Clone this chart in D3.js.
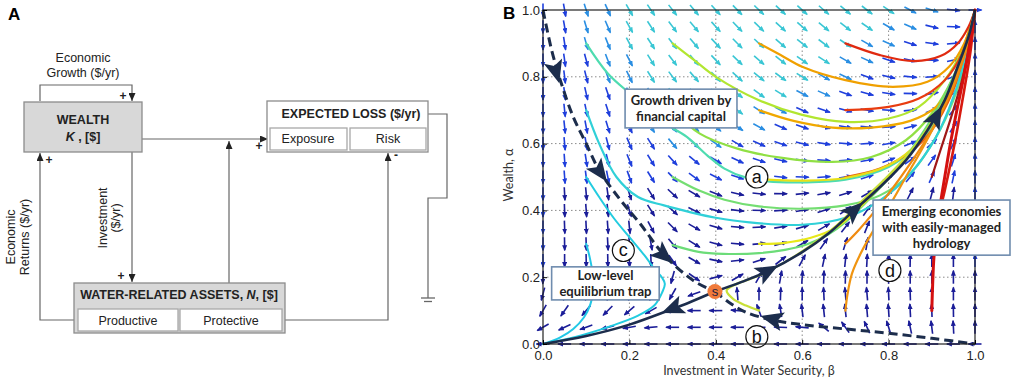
<!DOCTYPE html>
<html>
<head>
<meta charset="utf-8">
<script src="https://cdn.jsdelivr.net/npm/d3@7"></script>
<style>
  body { margin: 0; background: #fff; }
  svg { display: block; font-family: "Liberation Sans", Arial, sans-serif; }
</style>
</head>
<body>
<svg id="fig" width="1021" height="386"></svg>
<script>
// ─── panel A labels ──────────────────────────────────────────────────────────
const lossParts = ["Exposure", "Risk"];
const assetParts = ["Productive", "Protective"];
const growthLabel = ["Economic", "Growth ($/yr)"];
const investLabel = ["Investment", "($/yr)"];
const returnsLabel = ["Economic", "Returns ($/yr)"];

// ─── panel B data ────────────────────────────────────────────────────────────
const tickValues = [0, 0.2, 0.4, 0.6, 0.8, 1.0];
const fieldBeta = [0, 0.05, 0.1, 0.15, 0.2, 0.25, 0.3, 0.35, 0.4, 0.45, 0.5, 0.55, 0.6, 0.65, 0.7, 0.75, 0.8, 0.85, 0.9, 0.95, 1.0];
const fieldAlpha = [1.0, 0.95, 0.9, 0.85, 0.8, 0.75, 0.7, 0.65, 0.6, 0.55, 0.5, 0.45, 0.4, 0.35, 0.3, 0.25, 0.2, 0.15, 0.1, 0.05, 0];
// arrow direction in degrees (0 = +beta, 90 = +alpha), one row per alpha level
const fieldAngle = [
  [-90,-80,-72,-66,-60,-56,-52,-50,-48,-46,-44,-43,-42,-41,-40,-38,-34,-28,-18,-6,0],
  [-90,-80,-73,-67,-61,-57,-53,-50,-48,-46,-44,-42,-41,-40,-38,-35,-30,-24,-14,-2,90],
  [-90,-81,-74,-68,-62,-57,-53,-50,-47,-45,-43,-41,-39,-37,-34,-30,-25,-18,-8,5,90],
  [-90,-82,-75,-69,-63,-58,-53,-50,-47,-44,-41,-39,-36,-33,-30,-25,-19,-12,-2,12,90],
  [-90,-83,-76,-70,-64,-58,-53,-49,-46,-42,-39,-36,-32,-29,-25,-20,-14,-6,4,20,90],
  [-90,-83,-77,-71,-64,-58,-53,-48,-44,-40,-36,-32,-28,-24,-20,-15,-9,-1,10,28,90],
  [-90,-84,-78,-72,-65,-58,-52,-47,-42,-37,-33,-28,-24,-19,-15,-10,-4,6,22,50,90],
  [-90,-84,-79,-73,-66,-58,-51,-45,-40,-34,-29,-24,-19,-14,-10,-5,4,14,32,58,90],
  [-90,-85,-80,-75,-67,-58,-50,-43,-36,-30,-24,-19,-14,-9,-5,4,10,22,42,64,90],
  [-90,-86,-81,-76,-68,-58,-48,-40,-32,-25,-19,-13,-8,-4,4,10,20,36,55,72,90],
  [-90,-86,-83,-79,-70,-58,-46,-36,-27,-19,-13,-7,-2,5,10,18,32,50,66,78,90],
  [-90,-87,-85,-82,-72,-58,-43,-31,-21,-13,-6,-1,6,10,17,30,48,63,75,83,90],
  [-90,-88,-86,-84,-72,-58,-42,-27,-16,-7,-1,4,10,18,35,55,70,78,84,87,90],
  [-90,-88,-87,-86,-84,-62,-45,-30,-16,-5,3,9,16,30,52,68,78,84,87,89,90],
  [-90,-89,-88,-87,-86,-80,-50,-32,-16,-5,5,14,30,55,72,80,85,88,89,90,90],
  [-90,-90,-89,-89,-88,-88,-55,-30,-12,6,18,38,62,78,84,87,88,89,90,90,90],
  [-92,-92,-91,-91,-92,-96,-105,-35,15,30,60,80,86,88,89,90,90,90,90,90,90],
  [-105,-100,-97,-96,-96,-100,-120,-160,180,95,90,88,90,93,95,95,93,92,91,90,90],
  [-120,-125,-130,-135,-140,-150,-165,180,180,175,110,100,97,96,96,95,94,93,92,91,90],
  [-150,-155,-160,-165,-170,-175,180,180,180,180,180,178,175,140,125,115,108,102,97,93,90],
  [180,180,180,180,180,180,180,180,180,180,180,180,180,180,180,180,180,180,180,180,180]
];
// speed class of each arrow (3 fast … 0 slow)
const fieldSpeed = [
  "112233333333333332211",
  "112233333333333322111",
  "112233333333333221111",
  "111223333333332211111",
  "111223333333322111111",
  "111122333333221111111",
  "111122233322111111111",
  "111112222221111111111",
  "111111222111111111111",
  "111111111111111111111",
  "111111111111111111111",
  "100000000000000000001",
  "100000000000000000001",
  "100000000000000000001",
  "100000000000000000001",
  "100000000000000000001",
  "000000000000000000000",
  "000000000000000000000",
  "000000000000000000000",
  "000000000000000000000",
  "000000000000000000000"
];

// trajectories [beta, alpha]
const trajT1 = [[0.1,0.9],[0.15,0.81],[0.21,0.74],[0.27,0.67],[0.333,0.62],[0.38,0.565],[0.42,0.525],[0.47,0.498],[0.52,0.487],[0.6,0.484],[0.7,0.492],[0.8,0.53],[0.87,0.6],[0.93,0.72],[0.97,0.85],[1,1]];
const trajY1 = [[0.52,0.492],[0.6,0.489],[0.7,0.497],[0.8,0.535],[0.87,0.605],[0.93,0.725],[0.97,0.855],[1,1]];
const trajL2 = [[0.3,0.7],[0.363,0.63],[0.45,0.585],[0.55,0.558],[0.67,0.545],[0.76,0.56],[0.84,0.61],[0.9,0.69],[0.95,0.8],[0.98,0.9],[1,1]];
const trajL1 = [[0.3,0.9],[0.35,0.85],[0.4,0.8],[0.5,0.73],[0.6,0.686],[0.7,0.665],[0.8,0.675],[0.87,0.71],[0.93,0.79],[0.97,0.88],[1,1]];
const trajO1 = [[0.5,0.9],[0.55,0.865],[0.6,0.83],[0.7,0.79],[0.81,0.77],[0.89,0.785],[0.94,0.83],[0.975,0.9],[1,1]];
const trajO2 = [[0.5,0.7],[0.58,0.668],[0.67,0.648],[0.76,0.648],[0.85,0.668],[0.91,0.71],[0.955,0.79],[0.985,0.89],[1,1]];
const trajR1 = [[0.7,0.9],[0.78,0.865],[0.86,0.847],[0.92,0.862],[0.96,0.9],[0.985,0.95],[1,1]];
const trajR2 = [[0.7,0.7],[0.8,0.71],[0.87,0.735],[0.93,0.79],[0.97,0.87],[1,1]];
const trajR3 = [[0.7,0.5],[0.78,0.525],[0.85,0.575],[0.9,0.64],[0.95,0.76],[0.98,0.88],[1,1]];
const trajG2 = [[0.3,0.5],[0.36,0.46],[0.42,0.432],[0.5,0.412],[0.6,0.405],[0.7,0.415],[0.78,0.445],[0.85,0.51],[0.91,0.62],[0.95,0.73],[0.98,0.86],[1,1]];
const trajT2 = [[0.1,0.7],[0.13,0.6],[0.17,0.5],[0.22,0.44],[0.28,0.415],[0.34,0.395],[0.4,0.378],[0.478,0.364],[0.6,0.357],[0.7,0.378],[0.78,0.43],[0.85,0.51],[0.91,0.62],[0.95,0.74],[0.98,0.87],[1,1]];
const trajG4 = [[0.3,0.296],[0.36,0.276],[0.417,0.27],[0.5,0.272],[0.56,0.282],[0.61,0.298],[0.66,0.328],[0.7,0.365],[0.76,0.44],[0.82,0.525],[0.87,0.615],[0.92,0.72],[0.96,0.83],[0.985,0.92],[1,1]];
const trajY2 = [[0.5,0.3],[0.56,0.303],[0.62,0.318],[0.68,0.35],[0.73,0.405],[0.79,0.485],[0.845,0.565],[0.895,0.655],[0.935,0.745],[0.965,0.84],[0.99,0.94],[1,1]];
const trajY3 = [[0.5,0.1],[0.47,0.115],[0.44,0.135],[0.425,0.16],[0.44,0.175],[0.5,0.205],[0.56,0.245],[0.62,0.295],[0.68,0.355],[0.74,0.43],[0.8,0.505],[0.86,0.59],[0.905,0.675],[0.945,0.775],[0.975,0.87],[1,1]];
const trajO3 = [[0.7,0.3],[0.73,0.34],[0.76,0.385],[0.8,0.45],[0.85,0.54],[0.9,0.64],[0.94,0.74],[0.97,0.84],[0.99,0.93],[1,1]];
const trajO4 = [[0.7,0.1],[0.705,0.15],[0.715,0.21],[0.735,0.27],[0.765,0.34],[0.8,0.41],[0.84,0.5],[0.88,0.59],[0.92,0.69],[0.955,0.8],[0.985,0.91],[1,1]];
const trajD1 = [[0.9,0.5],[0.92,0.58],[0.945,0.68],[0.97,0.79],[0.988,0.9],[1,1]];
const trajR4 = [[0.9,0.3],[0.915,0.38],[0.93,0.46],[0.945,0.55],[0.96,0.65],[0.975,0.76],[0.99,0.88],[1,1]];
const trajR5 = [[0.9,0.1],[0.902,0.18],[0.905,0.26],[0.912,0.34],[0.92,0.42],[0.93,0.5],[0.943,0.6],[0.958,0.7],[0.974,0.8],[0.988,0.9],[1,1]];
const trajT3 = [[0.1,0.5],[0.13,0.44],[0.165,0.375],[0.2,0.32],[0.235,0.265],[0.258,0.225],[0.275,0.2],[0.282,0.18],[0.276,0.155],[0.258,0.116],[0.22,0.085],[0.16,0.055],[0.1,0.03],[0.045,0.012],[0,0]];
const trajT4 = [[0.1,0.3],[0.108,0.26],[0.115,0.21],[0.117,0.165],[0.11,0.12],[0.095,0.08],[0.07,0.045],[0.04,0.02],[0,0]];

// separatrices through the saddle s
const saddle = [0.398, 0.157];
const unstableLow = [[0.398,0.157],[0.34,0.125],[0.3,0.105],[0.2,0.058],[0.1,0.024],[0,0]];
const unstableHigh = [[0.398,0.157],[0.46,0.186],[0.52,0.218],[0.6,0.275],[0.66,0.33],[0.72,0.4],[0.78,0.47],[0.84,0.55],[0.89,0.64],[0.93,0.73],[0.96,0.83],[0.985,0.92],[1,1]];
const stableUpper = [[0,1],[0.02,0.88],[0.04,0.79],[0.07,0.68],[0.1,0.6],[0.13,0.52],[0.18,0.43],[0.225,0.36],[0.278,0.27],[0.348,0.19],[0.398,0.157]];
const stableLower = [[0.398,0.157],[0.43,0.125],[0.47,0.095],[0.53,0.072],[0.6,0.058],[0.7,0.045],[0.8,0.032],[0.9,0.017],[1,0]];
// arrowheads: [at, toward]
const heads = [
  [[0.03,0.815],[0.04,0.77]], [[0.132,0.515],[0.16,0.465]], [[0.28,0.265],[0.32,0.22]],
  [[0.53,0.075],[0.47,0.095]],
  [[0.3,0.106],[0.25,0.08]],
  [[0.52,0.218],[0.56,0.246]], [[0.72,0.4],[0.75,0.435]], [[0.91,0.68],[0.93,0.73]]
];
const circledLabels = ["a", "b", "c", "d"];
const circledAt = [[0.495,0.5],[0.495,0.022],[0.186,0.28],[0.803,0.22]];

const svg = d3.select("#fig");
svg.append("rect").attr("width", 1021).attr("height", 386).attr("fill", "#fff");
const defs = svg.append("defs");
defs.append("marker").attr("id", "tipA").attr("viewBox", "0 0 8 7").attr("markerWidth", 8).attr("markerHeight", 7)
  .attr("refX", 8).attr("refY", 3.5).attr("orient", "auto").attr("markerUnits", "userSpaceOnUse")
  .append("path").attr("d", "M0,0L8,3.5L0,7Z").attr("fill", "#222");

const SPEED_COLORS = { "3": "#3ac6d4", "2": "#2a8ee2", "1": "#1f3fdc", "0": "#1b1d98" };
Object.entries(SPEED_COLORS).forEach(([k, c]) => {
  defs.append("marker").attr("id", `q${k}`).attr("viewBox", "0 0 6 5").attr("markerWidth", 6).attr("markerHeight", 5)
    .attr("refX", 5).attr("refY", 2.5).attr("orient", "auto").attr("markerUnits", "userSpaceOnUse")
    .append("path").attr("d", "M0,0L6,2.5L0,5Z").attr("fill", c);
});

// ─── panel A: block diagram ─────────────────────────────────────────────────
const gA = svg.append("g").attr("class", "panel-a");
const LINE = "#666";
const link = (pts, head) => gA.append("path").attr("d", d3.line()(pts)).attr("fill", "none")
  .attr("stroke", LINE).attr("stroke-width", 1.2).attr("marker-end", head ? "url(#tipA)" : null);
const box = (x0, y0, w, h, fill, stroke) => gA.append("rect").attr("x", x0).attr("y", y0).attr("width", w).attr("height", h)
  .attr("fill", fill).attr("stroke", stroke).attr("stroke-width", 1.3);
const txt = (x0, y0, s, opts = {}) => gA.append("text").attr("x", x0).attr("y", y0).attr("text-anchor", opts.anchor || "middle")
  .attr("font-size", opts.size || 12.5).attr("font-weight", opts.bold ? "bold" : null).attr("fill", "#222").text(s);

gA.append("text").attr("x", 8).attr("y", 20).attr("font-size", 17).attr("font-weight", "bold").text("A");

// flows
link([[40, 101], [40, 85], [132, 85], [132, 101]], true);
link([[142, 139], [268, 139]], true);
link([[229, 283], [229, 141]], true);
link([[132, 152], [132, 282]], true);
link([[78, 320], [40, 320], [40, 153]], true);
link([[282, 320], [388, 320], [388, 153]], true);
link([[428, 114], [447, 114], [447, 198], [428, 198], [428, 298]], false);
gA.append("line").attr("x1", 421).attr("x2", 435).attr("y1", 298).attr("y2", 298).attr("stroke", LINE).attr("stroke-width", 1.3);
gA.append("line").attr("x1", 424).attr("x2", 432).attr("y1", 301.5).attr("y2", 301.5).attr("stroke", LINE).attr("stroke-width", 1.3);

// boxes
box(24, 102, 118, 50, "#d8d8d8", "#8c8c8c");
txt(83, 124, "WEALTH", { bold: true });
const kLine = gA.append("text").attr("x", 83).attr("y", 141).attr("text-anchor", "middle").attr("font-size", 12.5).attr("font-weight", "bold").attr("fill", "#222");
kLine.append("tspan").attr("font-style", "italic").text("K");
kLine.append("tspan").text(" , [$]");

box(267, 101, 161, 51, "#fff", "#8c8c8c");
txt(351, 118, "EXPECTED LOSS ($/yr)", { bold: true });
box(270, 128, 77, 22, "#fff", "#a8a8a8");
box(350, 128, 76, 22, "#fff", "#a8a8a8");
txt(308, 143, lossParts[0]);
txt(388, 143, lossParts[1]);

box(74, 283, 211, 50, "#d8d8d8", "#8c8c8c");
const wLine = gA.append("text").attr("x", 179).attr("y", 299).attr("text-anchor", "middle").attr("font-size", 12.5).attr("font-weight", "bold").attr("fill", "#222");
wLine.append("tspan").text("WATER-RELATED ASSETS, ");
wLine.append("tspan").attr("font-style", "italic").text("N");
wLine.append("tspan").text(", [$]");
box(78, 309, 100, 22, "#fff", "#a8a8a8");
box(180, 309, 102, 22, "#fff", "#a8a8a8");
txt(128, 325, assetParts[0]);
txt(231, 325, assetParts[1]);

// flow labels and signs
txt(83, 62, growthLabel[0]);
txt(83, 77, growthLabel[1]);
[[123, 100, "+"], [259, 150, "+"], [121, 280, "+"], [49, 164, "+"], [396, 159, "-"]].forEach(([px, py, s]) => txt(px, py, s, { size: 12, bold: true }));
[[107, investLabel[0]], [120, investLabel[1]]].forEach(([px, s]) =>
  gA.append("text").attr("transform", `translate(${px},218) rotate(-90)`).attr("text-anchor", "middle").attr("font-size", 12.5).attr("fill", "#222").text(s));
[[15, returnsLabel[0]], [29, returnsLabel[1]]].forEach(([px, s]) =>
  gA.append("text").attr("transform", `translate(${px},237) rotate(-90)`).attr("text-anchor", "middle").attr("font-size", 12.5).attr("fill", "#222").text(s));

// ─── panel B: phase portrait ────────────────────────────────────────────────
const gB = svg.append("g").attr("class", "panel-b");
const x = d3.scaleLinear().domain([0, 1]).range([543, 975]);
const y = d3.scaleLinear().domain([0, 1]).range([344, 10]);

gB.append("text").attr("x", 503).attr("y", 19).attr("font-size", 17).attr("font-weight", "bold").text("B");

// dotted grid
tickValues.slice(1, -1).forEach(v => {
  gB.append("line").attr("x1", x(v)).attr("x2", x(v)).attr("y1", y(0)).attr("y2", y(1))
    .attr("stroke", "#8a8a8a").attr("stroke-width", 1).attr("stroke-dasharray", "1.5,2.5");
  gB.append("line").attr("x1", x(0)).attr("x2", x(1)).attr("y1", y(v)).attr("y2", y(v))
    .attr("stroke", "#8a8a8a").attr("stroke-width", 1).attr("stroke-dasharray", "1.5,2.5");
});

// quiver field
const QL = 13;
const qG = gB.append("g").attr("class", "quiver");
fieldAlpha.forEach((a, r) => {
  fieldBeta.forEach((b, c) => {
    const ang = fieldAngle[r][c] * Math.PI / 180;
    const ux = Math.cos(ang), uy = -Math.sin(ang);
    const cx = x(b), cy = y(a);
    const k = fieldSpeed[r][c];
    qG.append("line")
      .attr("x1", cx - ux * QL / 2).attr("y1", cy - uy * QL / 2)
      .attr("x2", cx + ux * QL / 2).attr("y2", cy + uy * QL / 2)
      .attr("stroke", SPEED_COLORS[k]).attr("stroke-width", 1.6)
      .attr("marker-end", `url(#q${k})`);
  });
});

// trajectories
const curve = d3.line().x(d => x(d[0])).y(d => y(d[1])).curve(d3.curveCatmullRom.alpha(0.5));
const trajectories = [
  { pts: trajT4, color: "#22c8e6", w: 2 }, { pts: trajT3, color: "#22cce0", w: 2 },
  { pts: trajT1, color: "#4edcb0", w: 2.2 }, { pts: trajL2, color: "#90e044", w: 2.2 },
  { pts: trajL1, color: "#b2e630", w: 2.2 }, { pts: trajO1, color: "#f0a000", w: 2.2 },
  { pts: trajO2, color: "#f0a800", w: 2.2 }, { pts: trajR1, color: "#e02a10", w: 2.2 },
  { pts: trajR2, color: "#e83c10", w: 2.2 }, { pts: trajR3, color: "#e8600e", w: 2.2 },
  { pts: trajG2, color: "#74de72", w: 2.2 }, { pts: trajT2, color: "#30d0d8", w: 2.2 },
  { pts: trajY1, color: "#e6e018", w: 2.2 }, { pts: trajG4, color: "#6cdc78", w: 2.2 },
  { pts: trajY2, color: "#e8e818", w: 2.2 }, { pts: trajY3, color: "#c8e038", w: 2.2 },
  { pts: trajO3, color: "#f08a10", w: 2.2 }, { pts: trajO4, color: "#f09410", w: 2.2 },
  { pts: trajD1, color: "#a01818", w: 2.2 }, { pts: trajR4, color: "#d81a10", w: 2.6 },
  { pts: trajR5, color: "#d41010", w: 3 }
];
gB.append("g").attr("class", "traj").selectAll("path").data(trajectories).join("path")
  .attr("d", d => curve(d.pts)).attr("fill", "none").attr("stroke", d => d.color)
  .attr("stroke-width", d => d.w).attr("stroke-linecap", "round");

// separatrices
const NAVY = "#1c2d4c";
[unstableLow, unstableHigh].forEach(p => gB.append("path").attr("d", curve(p)).attr("fill", "none").attr("stroke", NAVY).attr("stroke-width", 2.6));
[stableUpper, stableLower].forEach(p => gB.append("path").attr("d", curve(p)).attr("fill", "none").attr("stroke", NAVY)
  .attr("stroke-width", 3).attr("stroke-dasharray", "9,5"));

heads.forEach(([at, to]) => {
  const px = x(at[0]), py = y(at[1]);
  const deg = Math.atan2(y(to[1]) - py, x(to[0]) - px) * 180 / Math.PI;
  gB.append("path").attr("d", "M12,0L-11,-9.5L-6,0L-11,9.5Z").attr("fill", NAVY)
    .attr("transform", `translate(${px},${py}) rotate(${deg})`);
});

// saddle
gB.append("circle").attr("cx", x(saddle[0])).attr("cy", y(saddle[1])).attr("r", 7.5).attr("fill", "#f07a3a");
gB.append("text").attr("x", x(saddle[0])).attr("y", y(saddle[1]) + 4.5).attr("text-anchor", "middle")
  .attr("font-size", 13).attr("fill", "#1c2040").text("s");

// circled labels
circledLabels.forEach((s, i) => {
  const [b, a] = circledAt[i];
  gB.append("circle").attr("cx", x(b)).attr("cy", y(a)).attr("r", 11).attr("fill", "#fff").attr("stroke", "#111").attr("stroke-width", 1.2);
  gB.append("text").attr("x", x(b)).attr("y", y(a) + 6).attr("text-anchor", "middle").attr("font-size", 18).attr("fill", "#111").text(s);
});

// frame + axes
gB.append("rect").attr("x", x(0)).attr("y", y(1)).attr("width", x(1) - x(0)).attr("height", y(0) - y(1))
  .attr("fill", "none").attr("stroke", "#222").attr("stroke-width", 1.2);
const fmt = d3.format(".1f");
gB.append("g").attr("class", "x-axis").attr("transform", `translate(0,${y(0)})`)
  .call(d3.axisBottom(x).tickValues(tickValues).tickFormat(fmt).tickSize(-4).tickPadding(7))
  .call(g => g.select(".domain").remove());
gB.append("g").attr("class", "y-axis").attr("transform", `translate(${x(0)},0)`)
  .call(d3.axisLeft(y).tickValues(tickValues).tickFormat(fmt).tickSize(-4).tickPadding(3))
  .call(g => g.select(".domain").remove());
gB.selectAll(".tick text").attr("fill", "#222").attr("font-size", 13).attr("font-family", "'Liberation Sans', Arial, sans-serif");

gB.append("text").attr("x", 749).attr("y", 375).attr("text-anchor", "middle").attr("font-family", "Lato, sans-serif")
  .attr("font-size", 12.5).attr("fill", "#333").text("Investment in Water Security, β");
gB.append("text").attr("transform", `translate(513,175) rotate(-90)`).attr("text-anchor", "middle").attr("font-family", "Lato, sans-serif")
  .attr("font-size", 12.5).attr("fill", "#333").text("Wealth, α");

// annotation boxes
const noteBox = (b0, a0, b1, a1, lines) => {
  const x0 = x(b0), y0 = y(a0), x1 = x(b1), y1 = y(a1);
  gB.append("rect").attr("x", x0).attr("y", y0).attr("width", x1 - x0).attr("height", y1 - y0)
    .attr("fill", "#fff").attr("stroke", "#6f8cae").attr("stroke-width", 1.6);
  const cx = (x0 + x1) / 2, cy = (y0 + y1) / 2;
  lines.forEach((s, i) => gB.append("text").attr("x", cx).attr("y", cy + (i - (lines.length - 1) / 2) * 16 + 4.5)
    .attr("text-anchor", "middle").attr("font-family", "Lato, sans-serif").attr("font-weight", "bold")
    .attr("font-size", 13).attr("fill", "#222").text(s));
};
noteBox(0.19, 0.763, 0.449, 0.647, ["Growth driven by", "financial capital"]);
noteBox(0.02, 0.231, 0.269, 0.132, ["Low-level", "equilibrium trap"]);
noteBox(0.764, 0.431, 1.081, 0.266, ["Emerging economies", "with easily-managed", "hydrology"]);
</script>
</body>
</html>
